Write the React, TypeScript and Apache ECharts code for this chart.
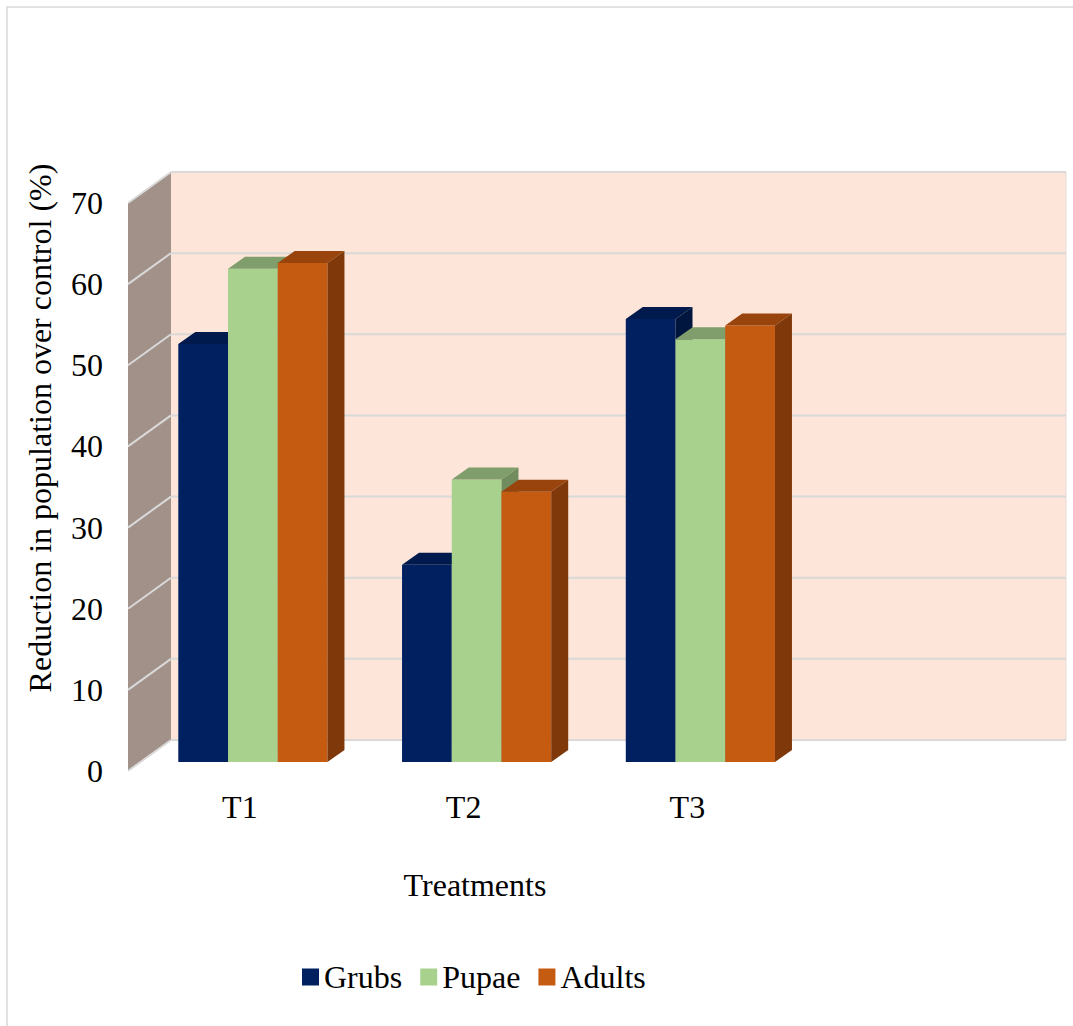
import React, { useEffect, useRef } from 'react';
import * as echarts from 'echarts';

// Treatments (the last slot is an empty category, as in the source sheet)
const categories = ['T1', 'T2', 'T3', ''];
const seriesNames = ['Grubs', 'Pupae', 'Adults'];
// Reduction in population over control (%)
const grubs = [51.5, 24.3, 54.6];
const pupae = [60.8, 34.8, 52.1];
const adults = [61.5, 33.3, 53.8];
const yTicks = [0, 10, 20, 30, 40, 50, 60, 70];

const Y_MAX = 70;
const FONT = "'Times New Roman', 'Liberation Serif', serif";

// oblique 3D projection offsets (px)
const WALL_DEPTH = [43, -31];
const BAR_SHIFT = [13, -9];
const BAR_DEPTH = [17, -12];

const faces = [
  { front: '#002060', top: '#001A4D', side: '#00163F' },
  { front: '#A9D18E', top: '#7F9E6B', side: '#718D5F' },
  { front: '#C55A11', top: '#9A440D', side: '#7F380A' },
];

const barRenderer = (s: number) => (params: any, api: any) => {
  const cat = api.value(0);
  const val = api.value(1);
  const band = api.size([1, 0])[0];
  const top = api.coord([cat, val]);
  const base = api.coord([cat, 0]);
  const bw = (band * 2) / 9;
  const x0 = top[0] - band / 3 + s * bw + BAR_SHIFT[0];
  const yTop = top[1] + BAR_SHIFT[1];
  const yBot = base[1] + BAR_SHIFT[1];
  const [dx, dy] = BAR_DEPTH;
  const c = faces[s];
  return {
    type: 'group',
    children: [
      {
        type: 'rect',
        shape: { x: x0, y: yTop, width: bw, height: yBot - yTop },
        style: { fill: c.front },
      },
      {
        type: 'polygon',
        shape: {
          points: [
            [x0, yTop],
            [x0 + bw, yTop],
            [x0 + bw + dx, yTop + dy],
            [x0 + dx, yTop + dy],
          ],
        },
        style: { fill: c.top },
      },
      {
        type: 'polygon',
        shape: {
          points: [
            [x0 + bw, yTop],
            [x0 + bw + dx, yTop + dy],
            [x0 + bw + dx, yBot + dy],
            [x0 + bw, yBot],
          ],
        },
        style: { fill: c.side },
      },
    ],
  };
};

const App: React.FC = () => {
  const ref = useRef<HTMLDivElement>(null);

  useEffect(() => {
    if (!ref.current) return;
    const chart = echarts.init(ref.current, undefined, { renderer: 'svg' });

    const wallSeries: any[] = [
      {
        type: 'custom',
        silent: true,
        z: 1,
        data: [[0, Y_MAX]],
        renderItem: (params: any, api: any) => {
          const cs = params.coordSys;
          const y0 = api.coord([0, 0])[1];
          const y1 = api.coord([0, Y_MAX])[1];
          const [dx, dy] = WALL_DEPTH;
          return {
            type: 'group',
            children: [
              {
                type: 'rect',
                shape: { x: cs.x + dx, y: y1 + dy, width: cs.width, height: y0 - y1 },
                style: { fill: '#FDE5D9' },
              },
              {
                type: 'line',
                shape: { x1: cs.x + cs.width + dx, y1: y1 + dy, x2: cs.x + cs.width + dx, y2: y0 + dy },
                style: { stroke: '#E6DCD6', lineWidth: 1 },
              },
              {
                type: 'polygon',
                shape: {
                  points: [
                    [cs.x, y1],
                    [cs.x + dx, y1 + dy],
                    [cs.x + dx, y0 + dy],
                    [cs.x, y0],
                  ],
                },
                style: { fill: '#A29189' },
              },
            ],
          };
        },
      },
      {
        type: 'custom',
        silent: true,
        z: 2,
        data: yTicks.map((v) => [0, v]),
        renderItem: (params: any, api: any) => {
          const cs = params.coordSys;
          const y = api.coord([0, api.value(1)])[1];
          const [dx, dy] = WALL_DEPTH;
          return {
            type: 'group',
            children: [
              {
                type: 'line',
                shape: { x1: cs.x + dx, y1: y + dy, x2: cs.x + cs.width + dx, y2: y + dy },
                style: { stroke: '#D9D9D9', lineWidth: 2 },
              },
              {
                type: 'line',
                shape: { x1: cs.x, y1: y, x2: cs.x + dx, y2: y + dy },
                style: { stroke: '#D9D9D9', lineWidth: 2 },
              },
            ],
          };
        },
      },
    ];

    const valueSets = [grubs, pupae, adults];
    const barSeries = seriesNames.map((name, s) => ({
      name,
      type: 'custom',
      z: 3,
      itemStyle: { color: faces[s].front },
      encode: { x: 0, y: 1 },
      data: valueSets[s].map((v, i) => [i, v]),
      renderItem: barRenderer(s),
    }));

    chart.setOption({
      animation: false,
      textStyle: { fontFamily: FONT },
      grid: { left: 128, top: 203, width: 895, height: 568, containLabel: false },
      xAxis: {
        type: 'category',
        data: categories,
        axisLine: { show: false },
        axisTick: { show: false },
        splitLine: { show: false },
        axisLabel: { fontSize: 32, color: '#000', fontFamily: FONT, margin: 20 },
      },
      yAxis: {
        type: 'value',
        min: 0,
        max: Y_MAX,
        interval: 10,
        axisLine: { show: false },
        axisTick: { show: false },
        splitLine: { show: false },
        axisLabel: { fontSize: 32, color: '#000', fontFamily: FONT, margin: 25 },
      },
      legend: {
        data: seriesNames,
        left: 302,
        top: 961,
        padding: 0,
        icon: 'rect',
        itemWidth: 17,
        itemHeight: 17,
        itemGap: 18,
        textStyle: { fontSize: 32, color: '#000', fontFamily: FONT },
      },
      graphic: [
        {
          type: 'rect',
          silent: true,
          shape: { x: 7, y: 7, width: 1200, height: 1200 },
          style: { fill: 'none', stroke: '#D9D9D9', lineWidth: 1.5 },
        },
        {
          type: 'text',
          x: 40,
          y: 428,
          rotation: Math.PI / 2,
          style: {
            text: 'Reduction in population over control (%)',
            fontSize: 32,
            fontFamily: FONT,
            fill: '#000',
            align: 'center',
            verticalAlign: 'middle',
          },
        },
        {
          type: 'text',
          x: 475,
          y: 885,
          style: {
            text: 'Treatments',
            fontSize: 32,
            fontFamily: FONT,
            fill: '#000',
            align: 'center',
            verticalAlign: 'middle',
          },
        },
      ],
      series: [...wallSeries, ...barSeries],
    });

    return () => chart.dispose();
  }, []);

  return (
    <div
      ref={ref}
      style={{ position: 'absolute', left: 0, top: 0, width: 1073, height: 1026, background: '#fff' }}
    />
  );
};

export default App;
